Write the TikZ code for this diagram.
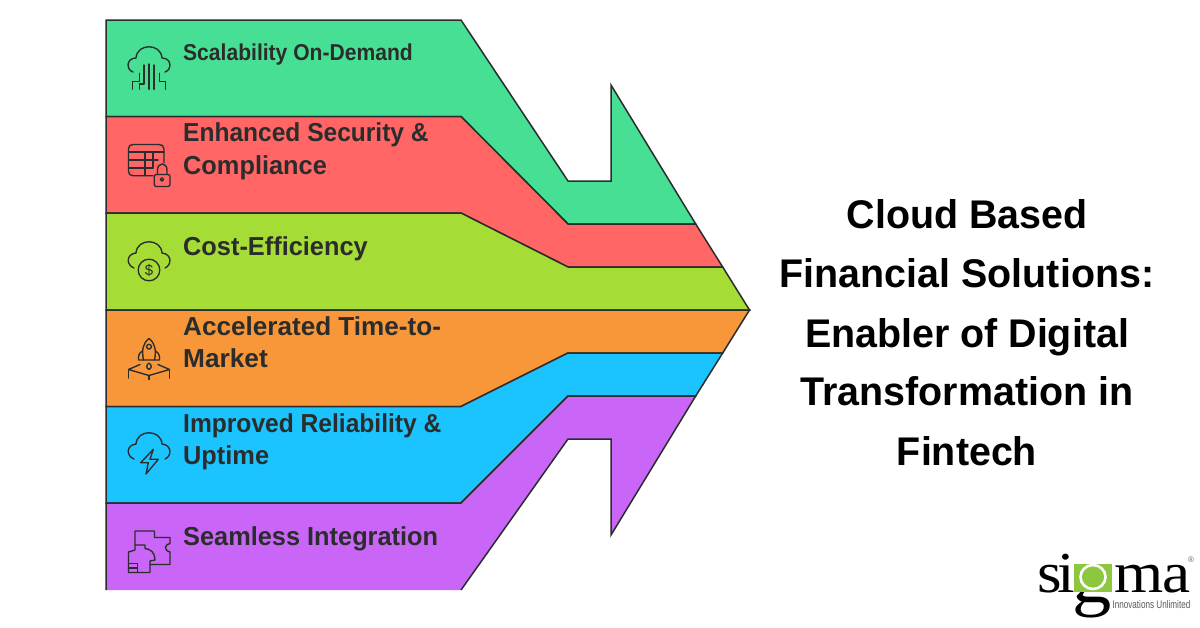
\documentclass[tikz,border=0pt]{standalone}
\usepackage{fontspec}
\setmainfont{Liberation Sans}
\newfontfamily\logofont{Liberation Serif}
\definecolor{cgreen}{HTML}{46DF94}
\definecolor{cred}{HTML}{FF6665}
\definecolor{clime}{HTML}{A6DC36}
\definecolor{corange}{HTML}{F8963A}
\definecolor{cblue}{HTML}{1BC3FF}
\definecolor{cpurple}{HTML}{C966F7}
\definecolor{ink}{HTML}{2A2D2C}
\definecolor{logogreen}{HTML}{8DC63F}
\tikzset{
  band/.style={draw=ink,line width=1.5pt,line join=miter,miter limit=10},
  iconline/.style={draw=ink,line width=1.35pt,line cap=round,line join=round},
  label/.style={anchor=base west,inner sep=0pt,text=ink,font=\fontsize{26}{32}\selectfont\bfseries,xscale=0.975},
  titleline/.style={anchor=base,inner sep=0pt,text=black,font=\fontsize{40}{48}\selectfont\bfseries,xscale=0.985},
}
\begin{document}
\begin{tikzpicture}[x=1pt,y=-1pt]
\useasboundingbox (0,0) rectangle (1200,627);
\fill[white] (0,0) rectangle (1200,627);
% bands
\path[band,fill=cgreen] (106,20) -- (461,20) -- (568,181) -- (611,181) -- (611,85) -- (695.7,224) -- (568,224) -- (461,116.5) -- (106,116.5) -- cycle;
\path[band,fill=cred] (106,116.5) -- (461,116.5) -- (568,224) -- (695.7,224) -- (722.7,267) -- (568,267) -- (461,213) -- (106,213) -- cycle;
\path[band,fill=clime] (106,213) -- (461,213) -- (568,267) -- (722.7,267) -- (749.5,310) -- (106,310) -- cycle;
\path[band,fill=corange] (106,310) -- (749.5,310) -- (722.7,353) -- (568,353) -- (461,406.5) -- (106,406.5) -- cycle;
\path[band,fill=cblue] (106,406.5) -- (461,406.5) -- (568,353) -- (722.7,353) -- (695.7,396) -- (568,396) -- (461,503) -- (106,503) -- cycle;
\fill[cpurple] (106,503) -- (461,503) -- (568,396) -- (695.7,396) -- (611,535) -- (611,439) -- (568,439) -- (461,590) -- (106,590) -- cycle;
\path[band] (106,590) -- (106,503) -- (461,503) -- (568,396) -- (695.7,396) -- (611,535) -- (611,439) -- (568,439) -- (461,590);
% labels
\node[label,font=\fontsize{23}{32}\selectfont\bfseries,xscale=0.94] (l1) at (183,60) {Scalability On-Demand};
\node[label,xscale=0.968] (l2a) at (183,141.5) {Enhanced Security \&};
\node[label] (l2b) at (183,174) {Compliance};
\node[label] (l3) at (183,255) {Cost-Efficiency};
\node[label,xscale=1.03] (l4a) at (183,335) {Accelerated Time-to-};
\node[label,xscale=1.035] (l4b) at (183,367.5) {Market};
\node[label,xscale=0.97] (l5a) at (183,432) {Improved Reliability \&};
\node[label,xscale=1.0] (l5b) at (183,464) {Uptime};
\node[label] (l6) at (183,545) {Seamless Integration};
% title
\node[titleline] (t1) at (967,228) {Cloud Based};
\node[titleline] (t2) at (967,287) {Financial Solutions:};
\node[titleline] (t3) at (967,347) {Enabler of Digital};
\node[titleline] (t4) at (967,405) {Transformation in};
\node[titleline] (t5) at (967,465) {Fintech};
% icon 1: cloud with circuits
\path[iconline] (133,72) .. controls (126,70) and (126,58) .. (136,58) .. controls (137,43) and (161,43) .. (162,58) .. controls (172,58) and (172,70) .. (165,72);
\path[iconline] (139.3,73.3) -- (139.3,81.7) -- (132.3,81.7) -- (132.3,89.3);
\path[iconline] (144,65) -- (144,84) -- (139.3,84) -- (139.3,89.3);
\path[iconline] (149,64) -- (149,89.3);
\path[iconline] (154,65) -- (154,89.3);
\path[iconline] (159.3,73.3) -- (159.3,81.7) -- (165.7,81.7) -- (165.7,89.3);
% icon 2: table with lock
\path[iconline] (153,175.7) -- (133,175.7) .. controls (130,175.7) and (128.5,174) .. (128.5,171) -- (128.5,149) .. controls (128.5,146) and (130,144.5) .. (133,144.5) -- (159,144.5) .. controls (162,144.5) and (164,146) .. (164,149) -- (164,163);
\path[iconline] (128.5,152) -- (164,152);
\path[iconline] (128.5,160) -- (158,160);
\path[iconline] (128.5,168) -- (153,168);
\path[iconline] (145,152) -- (145,175.7);
\path[iconline] (153,152) -- (153,168);
\path[iconline,rounded corners=2pt] (154.3,174.5) rectangle (170,186.5);
\path[iconline] (157.5,174.5) -- (157.5,170) .. controls (157.5,162) and (167,162) .. (167,170) -- (167,174.5);
\path[iconline] (162,179.5) circle (1.6);
% icon 3: cloud with dollar
\path[iconline] (134,268) .. controls (126,265) and (126,254) .. (136,253) .. controls (137,238) and (161,238) .. (162,253) .. controls (172,254) and (172,265) .. (165,268);
\path[iconline,fill=clime] (149,270) circle (10.8);
\node[inner sep=0pt,text=ink,font=\fontsize{15}{15}\selectfont] (d3) at (149,270) {\$};
% icon 4: rocket
\path[iconline] (149,338.5) .. controls (143,343) and (141.5,350) .. (143.5,360) -- (154.5,360) .. controls (156.5,350) and (155,343) .. (149,338.5) -- cycle;
\path[iconline] (149,346.7) circle (2.4);
\path[iconline] (142.5,351) .. controls (139,353) and (138,356) .. (138.5,360) -- (143.5,360);
\path[iconline] (155.5,351) .. controls (159,353) and (160,356) .. (159.5,360) -- (154.5,360);
\path[iconline] (149,363) .. controls (146,365) and (146,368) .. (149,369.5) .. controls (152,368) and (152,365) .. (149,363) -- cycle;
\path[iconline] (140,364.5) -- (128.5,369.5) -- (149,375.5) -- (169.5,369.5) -- (158,364.5);
\path[iconline] (128.5,369.5) -- (128.5,378);
\path[iconline] (149,375.5) -- (149,379.5);
\path[iconline] (169.5,369.5) -- (169.5,378);
% icon 5: cloud with lightning
\path[iconline] (134,459) .. controls (126,456) and (126,445) .. (136,444) .. controls (137,429) and (161,429) .. (162,444) .. controls (172,445) and (172,456) .. (165,459);
\path[iconline,fill=cblue] (153.3,449.3) -- (140.7,462.7) -- (148.3,462.7) -- (146,474) -- (158.3,459.3) -- (150,459.3) -- cycle;
% icon 6: puzzle
\path[iconline] (135,531) -- (154.5,531) -- (154.5,537.5) -- (170,537.5) -- (170,543.5) .. controls (165,544) and (163,550) .. (170,552) -- (170,564.5) -- (150,564.5) -- (150,572.5) -- (128.5,572.5) -- (128.5,552) -- (135,550) -- cycle;
\path[iconline] (135,545) -- (145,545) -- (145,548.5) .. controls (151,549) and (155,553) .. (155,560) -- (150,561) -- (150,564.5);
\path[iconline] (128.5,563.5) -- (137.5,563.5) -- (137.5,572.5);
\path[iconline] (128.5,568) -- (137.5,568);
% logo
\node[anchor=base west,inner sep=0pt,text=black,font=\logofont\fontsize{58}{58}\selectfont,xscale=1.09] (logo) at (1037.5,592) {\smash{s\kern-4.2pt i\kern-2.4pt \raisebox{-10pt}{\fontsize{72}{72}\selectfont g}\kern2pt m\kern-1pt a}};
\fill[logogreen] (1074,564) rectangle (1112,592);
\draw[white,line width=2.6pt] (1093,577) ellipse (12.5 and 12);
\node[anchor=base east,inner sep=0pt,text=black!65,font=\fontsize{11}{11}\selectfont,xscale=0.74] (tag) at (1190.5,608.5) {Innovations Unlimited};
\node[inner sep=0pt,text=black!60,font=\fontsize{8}{8}\selectfont] (tm) at (1191,560) {®};
\end{tikzpicture}
\end{document}
